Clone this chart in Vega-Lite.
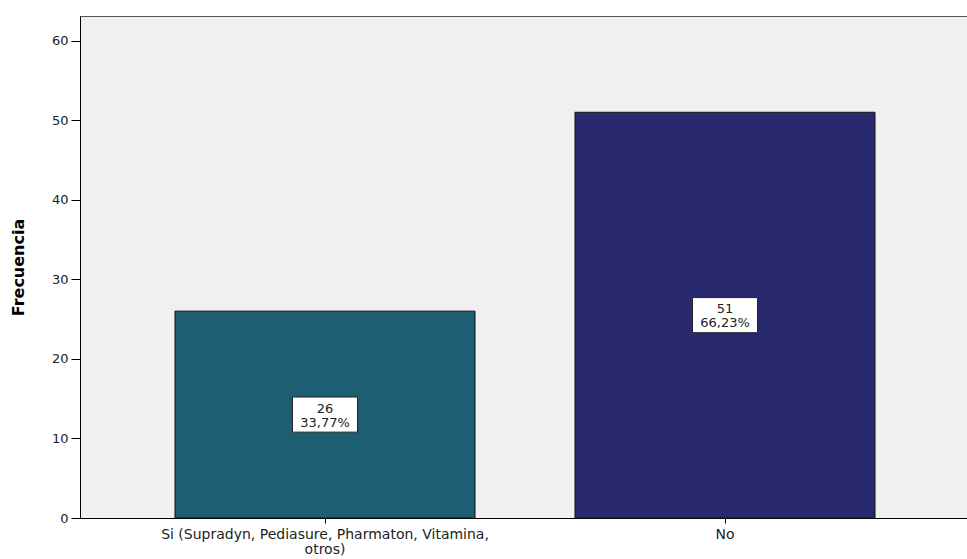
{
  "$schema": "https://vega.github.io/schema/vega-lite/v6.json",
  "autosize": "none",
  "width": 890,
  "height": 502,
  "padding": {"left": 80, "top": 16, "right": 0, "bottom": 41},
  "background": "white",
  "config": {
    "view": {"fill": "#f0f0f0", "stroke": "#555555", "strokeWidth": 1},
    "font": "DejaVu Sans"
  },
  "data": {
    "values": [
      {"categoria": "Si (Supradyn, Pediasure, Pharmaton, Vitamina, otros)", "frecuencia": 26, "mitad": 13, "etiqueta": "26\n33,77%"},
      {"categoria": "No", "frecuencia": 51, "mitad": 25.5, "etiqueta": "51\n66,23%"}
    ]
  },
  "encoding": {
    "x": {
      "field": "categoria",
      "type": "nominal",
      "sort": null,
      "scale": {"paddingInner": 0.25, "paddingOuter": 0.2375},
      "axis": {
        "title": null,
        "labelAngle": 0,
        "labelFont": "DejaVu Sans",
        "labelFontSize": 14,
        "labelColor": "#222222",
        "labelPadding": 4,
        "labelLineHeight": 15,
        "labelExpr": "datum.value == 'No' ? 'No' : ['Si (Supradyn, Pediasure, Pharmaton, Vitamina,', 'otros)']",
        "domainColor": "#000000",
        "tickColor": "#000000",
        "tickSize": 5,
        "labelLimit": 500
      }
    }
  },
  "layer": [
    {
      "mark": {"type": "bar", "stroke": "#111111", "strokeWidth": 1},
      "encoding": {
        "y": {
          "field": "frecuencia",
          "type": "quantitative",
          "scale": {"domain": [0, 63.1], "nice": false},
          "axis": {
            "title": "Frecuencia",
            "titleFont": "DejaVu Sans",
            "titleFontSize": 16,
            "titleFontWeight": "bold",
            "titleColor": "#000000",
            "titlePadding": 25,
            "values": [0, 10, 20, 30, 40, 50, 60],
            "grid": false,
            "labelFont": "DejaVu Sans",
            "labelFontSize": 13,
            "labelColor": "#222222",
            "domainColor": "#000000",
            "tickColor": "#000000",
            "tickSize": 9,
            "labelPadding": 3
          }
        },
        "color": {
          "field": "categoria",
          "type": "nominal",
          "sort": null,
          "scale": {"range": ["#1d5e72", "#29296f"]},
          "legend": null
        }
      }
    },
    {
      "mark": {
        "type": "point",
        "shape": "M-1,-0.54L1,-0.54L1,0.54L-1,0.54Z",
        "size": 4225,
        "filled": true,
        "fill": "white",
        "stroke": "#222222",
        "strokeWidth": 1,
        "opacity": 1
      },
      "encoding": {
        "y": {"field": "mitad", "type": "quantitative"}
      }
    },
    {
      "mark": {
        "type": "text",
        "font": "DejaVu Sans",
        "fontSize": 13,
        "color": "#222222",
        "lineBreak": "\n",
        "lineHeight": 14,
        "align": "center",
        "baseline": "middle",
        "dy": -6
      },
      "encoding": {
        "y": {"field": "mitad", "type": "quantitative"},
        "text": {"field": "etiqueta"}
      }
    }
  ]
}
